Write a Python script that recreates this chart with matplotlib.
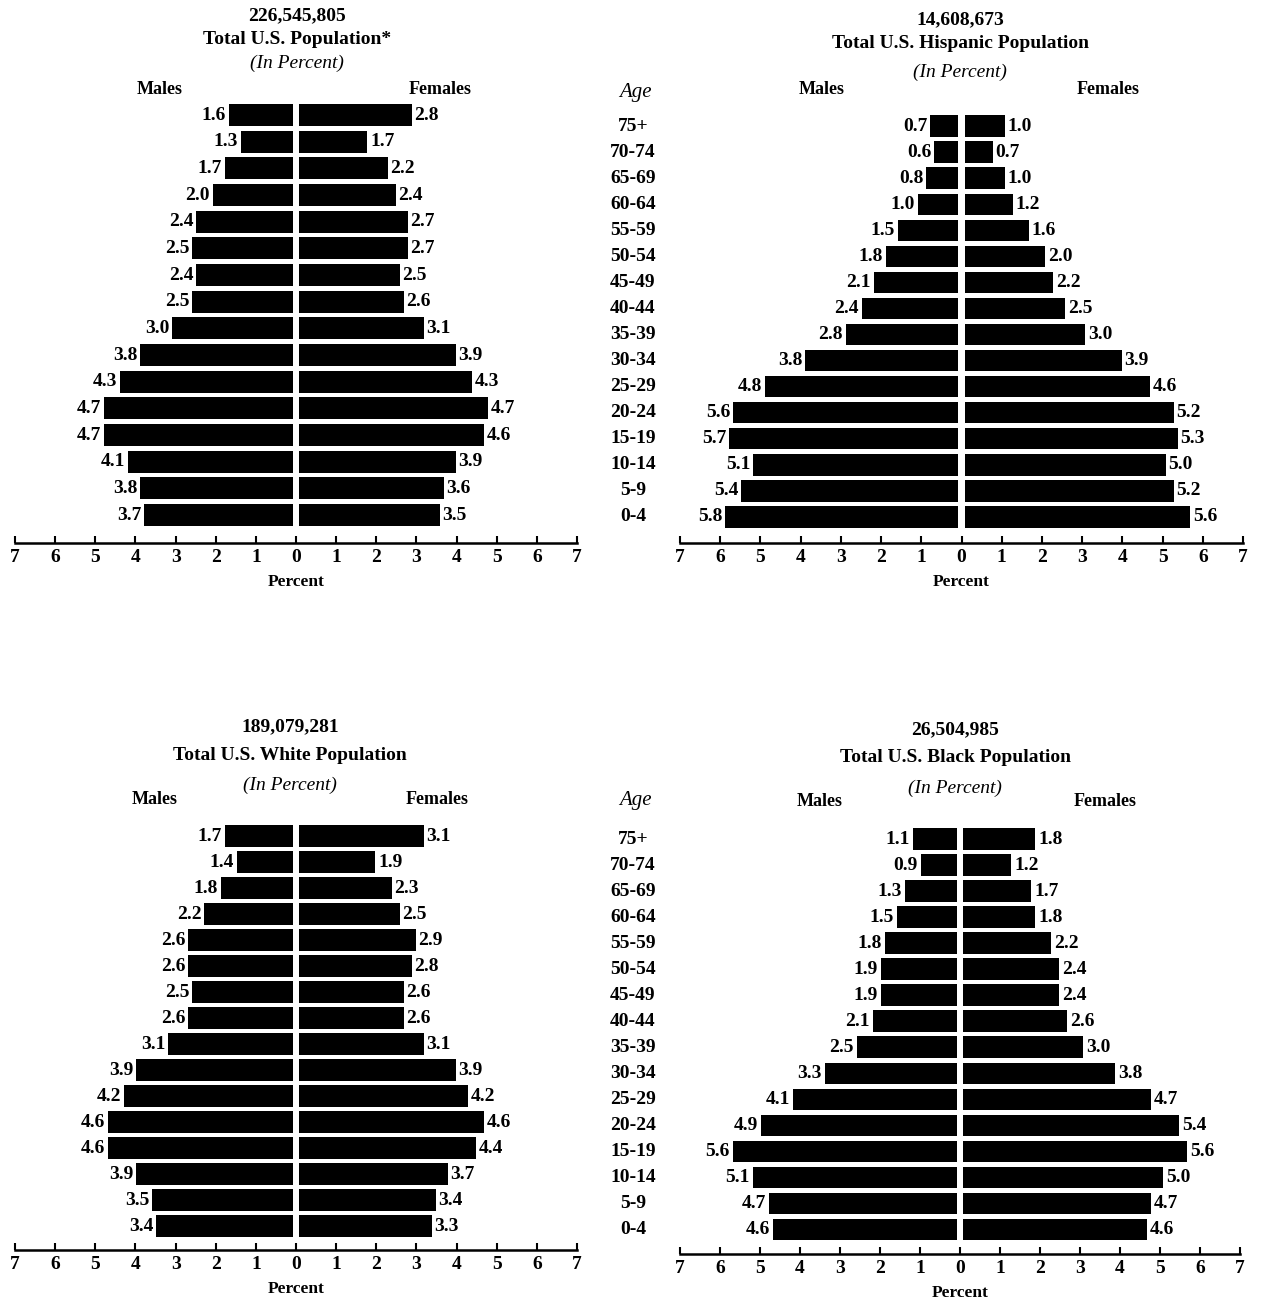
import matplotlib.pyplot as plt
import matplotlib.transforms as mtransforms
import numpy as np

plt.rcParams['font.family'] = ['Liberation Serif', 'DejaVu Serif']

# age groups, bottom (0-4) to top (75+)
edades = ["0-4", "5-9", "10-14", "15-19", "20-24", "25-29", "30-34", "35-39",
          "40-44", "45-49", "50-54", "55-59", "60-64", "65-69", "70-74", "75+"]

# valores leidos de arriba (75+) hacia abajo (0-4)
total_h = [1.6, 1.3, 1.7, 2.0, 2.4, 2.5, 2.4, 2.5, 3.0, 3.8, 4.3, 4.7, 4.7, 4.1, 3.8, 3.7]
total_m = [2.8, 1.7, 2.2, 2.4, 2.7, 2.7, 2.5, 2.6, 3.1, 3.9, 4.3, 4.7, 4.6, 3.9, 3.6, 3.5]

hisp_h = [0.7, 0.6, 0.8, 1.0, 1.5, 1.8, 2.1, 2.4, 2.8, 3.8, 4.8, 5.6, 5.7, 5.1, 5.4, 5.8]
hisp_m = [1.0, 0.7, 1.0, 1.2, 1.6, 2.0, 2.2, 2.5, 3.0, 3.9, 4.6, 5.2, 5.3, 5.0, 5.2, 5.6]

blanca_h = [1.7, 1.4, 1.8, 2.2, 2.6, 2.6, 2.5, 2.6, 3.1, 3.9, 4.2, 4.6, 4.6, 3.9, 3.5, 3.4]
blanca_m = [3.1, 1.9, 2.3, 2.5, 2.9, 2.8, 2.6, 2.6, 3.1, 3.9, 4.2, 4.6, 4.4, 3.7, 3.4, 3.3]

negra_h = [1.1, 0.9, 1.3, 1.5, 1.8, 1.9, 1.9, 2.1, 2.5, 3.3, 4.1, 4.9, 5.6, 5.1, 4.7, 4.6]
negra_m = [1.8, 1.2, 1.7, 1.8, 2.2, 2.4, 2.4, 2.6, 3.0, 3.8, 4.7, 5.4, 5.6, 5.0, 4.7, 4.6]

totales = ["226,545,805", "14,608,673", "189,079,281", "26,504,985"]
titulos = ["Total U.S. Population*", "Total U.S. Hispanic Population",
           "Total U.S. White Population", "Total U.S. Black Population"]

W, H = 1262, 1304
fig = plt.figure(figsize=(W / 100, H / 100), dpi=100)


def px(x0, y0, x1, y1):
    # caja en pixeles -> fraccion de figura
    return [x0 / W, 1 - y1 / H, (x1 - x0) / W, (y1 - y0) / H]


def piramide(rect, ylim, hombres, mujeres):
    ax = fig.add_axes(rect)
    y = np.arange(len(edades))
    h = np.array(hombres[::-1])
    m = np.array(mujeres[::-1])
    gap = 0.08
    bh = ax.barh(y, -h, left=-gap, height=0.82, color="black")
    bm = ax.barh(y, m, left=gap, height=0.82, color="black")
    ax.bar_label(bh, labels=[f"{v:.1f}" for v in h], padding=2,
                 fontsize=14, fontweight="bold")
    ax.bar_label(bm, labels=[f"{v:.1f}" for v in m], padding=2,
                 fontsize=14, fontweight="bold")
    ax.set_xlim(-7, 7)
    ax.set_ylim(*ylim)
    ticks = np.arange(-7, 8)
    ax.set_xticks(ticks)
    ax.set_xticklabels([str(abs(t)) for t in ticks], fontsize=14, fontweight="bold")
    ax.tick_params(axis="x", direction="in", length=5, width=1.5, pad=4)
    ax.set_yticks([])
    for s in ["top", "left", "right"]:
        ax.spines[s].set_visible(False)
    ax.spines["bottom"].set_linewidth(1.8)
    ax.set_xlabel("Percent", fontsize=12.5, fontweight="bold", labelpad=6)
    return ax


ax1 = piramide(px(15, 101.7, 577, 543), (-1.05, 15.5), total_h, total_m)
ax2 = piramide(px(680, 113, 1243, 543), (-1.0, 15.5), hisp_h, hisp_m)
ax3 = piramide(px(15, 823, 577, 1250), (-0.92, 15.5), blanca_h, blanca_m)
ax4 = piramide(px(680, 826, 1240, 1254), (-0.95, 15.5), negra_h, negra_m)

# titulos de cada panel (x centro, y del numero, y del titulo, y de "In Percent", y de Males/Females, x Males, x Females)
cabeceras = [
    (297, 16, 39, 63, 90, 160, 440),
    (960, 20, 43, 72, 90, 822, 1108),
    (290, 727, 755, 785, 800, 155, 437),
    (955, 730, 758, 788, 802, 820, 1105),
]
for i, (cx, y0, y1, y2, y3, xm, xf) in enumerate(cabeceras):
    fig.text(cx / W, 1 - y0 / H, totales[i], ha="center", va="center",
             fontsize=14, fontweight="bold")
    fig.text(cx / W, 1 - y1 / H, titulos[i], ha="center", va="center",
             fontsize=14, fontweight="bold")
    fig.text(cx / W, 1 - y2 / H, "(In Percent)", ha="center", va="center",
             fontsize=14, style="italic")
    fig.text(xm / W, 1 - y3 / H, "Males", ha="center", va="center",
             fontsize=13, fontweight="bold")
    fig.text(xf / W, 1 - y3 / H, "Females", ha="center", va="center",
             fontsize=13, fontweight="bold")

# columna de edades entre los paneles
for ax, ytxt in [(ax2, 92), (ax4, 800)]:
    fig.text(635 / W, 1 - ytxt / H, "Age", ha="center", va="center",
             fontsize=15, style="italic")
    tr = mtransforms.blended_transform_factory(fig.transFigure, ax.transData)
    for k, e in enumerate(edades):
        ax.text(633 / W, k, e, transform=tr, ha="center", va="center",
                fontsize=14, fontweight="bold", clip_on=False)

fig.savefig("out.png", dpi=100)
